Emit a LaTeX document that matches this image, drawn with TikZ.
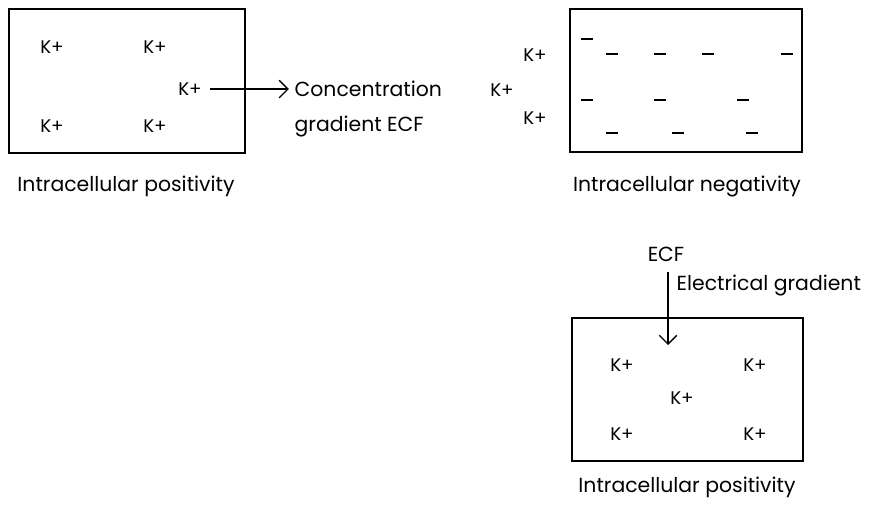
\documentclass[tikz,border=0pt]{standalone}
\usepackage{fontspec}
\setmainfont{Poppins}
\usetikzlibrary{arrows.meta}

\begin{document}
\begin{tikzpicture}[x=0.025cm, y=-0.025cm, >={Straight Barb[length=2.2mm,width=4.4mm]},
		cellbox/.style={line width=1.2pt},
		ion/.style={font=\fontsize{13}{15}\selectfont},
		lbl/.style={font=\fontsize{14.5}{17}\selectfont, inner sep=1pt}]
		\useasboundingbox (0,0) rectangle (874,508);
		% box 1: intracellular positivity
		\draw[cellbox] (9,9) rectangle (245,153);
		\node[ion] (ka) at (52,47) {K+};
		\node[ion] (kb) at (155,47) {K+};
		\node[ion] (kc) at (190,89) {K+};
		\node[ion] (kd) at (52,126) {K+};
		\node[ion] (ke) at (155,126) {K+};
		\node[lbl, anchor=west] (conc) at (293,89) {Concentration};
		\node[lbl, anchor=west] (grad) at (293,126) {gradient ECF};
		\draw[->, line width=0.9pt] ([xshift=2pt]kc.east) -- ([xshift=-3pt]conc.west);
		\node[lbl] (cap1) at (126,186) {Intracellular positivity};
		% box 2: intracellular negativity
		\draw[cellbox] (570,9) rectangle (802,152);
		\node[ion] (kf) at (535,55) {K+};
		\node[ion] (kg) at (502,90) {K+};
		\node[ion] (kh) at (535,118) {K+};
		\foreach \x/\y in {587/39, 612/54, 660/54, 708/54, 787/54,
				587/100, 660/100, 743/100, 612/133, 678/133, 752/133}
			\draw[line width=1.8pt] ({\x-6},\y) -- ({\x+6},\y);
		\node[lbl] (cap2) at (687,186) {Intracellular negativity};
		% box 3: electrical gradient
		\node[lbl] (ecf) at (666,254) {ECF};
		\node[lbl, anchor=west] (elec) at (675,285) {Electrical gradient};
		\draw[cellbox] (572,318) rectangle (803,461);
		\coordinate (tip) at (668,345);
		\draw[->, line width=0.9pt] (668,272) -- (tip);
		\node[ion] (ki) at (622,365) {K+};
		\node[ion] (kj) at (755,365) {K+};
		\node[ion] (kk) at (682,398) {K+};
		\node[ion] (kl) at (622,434) {K+};
		\node[ion] (km) at (755,434) {K+};
		\node[lbl] (cap3) at (687,487) {Intracellular positivity};
	\end{tikzpicture}
\end{document}
